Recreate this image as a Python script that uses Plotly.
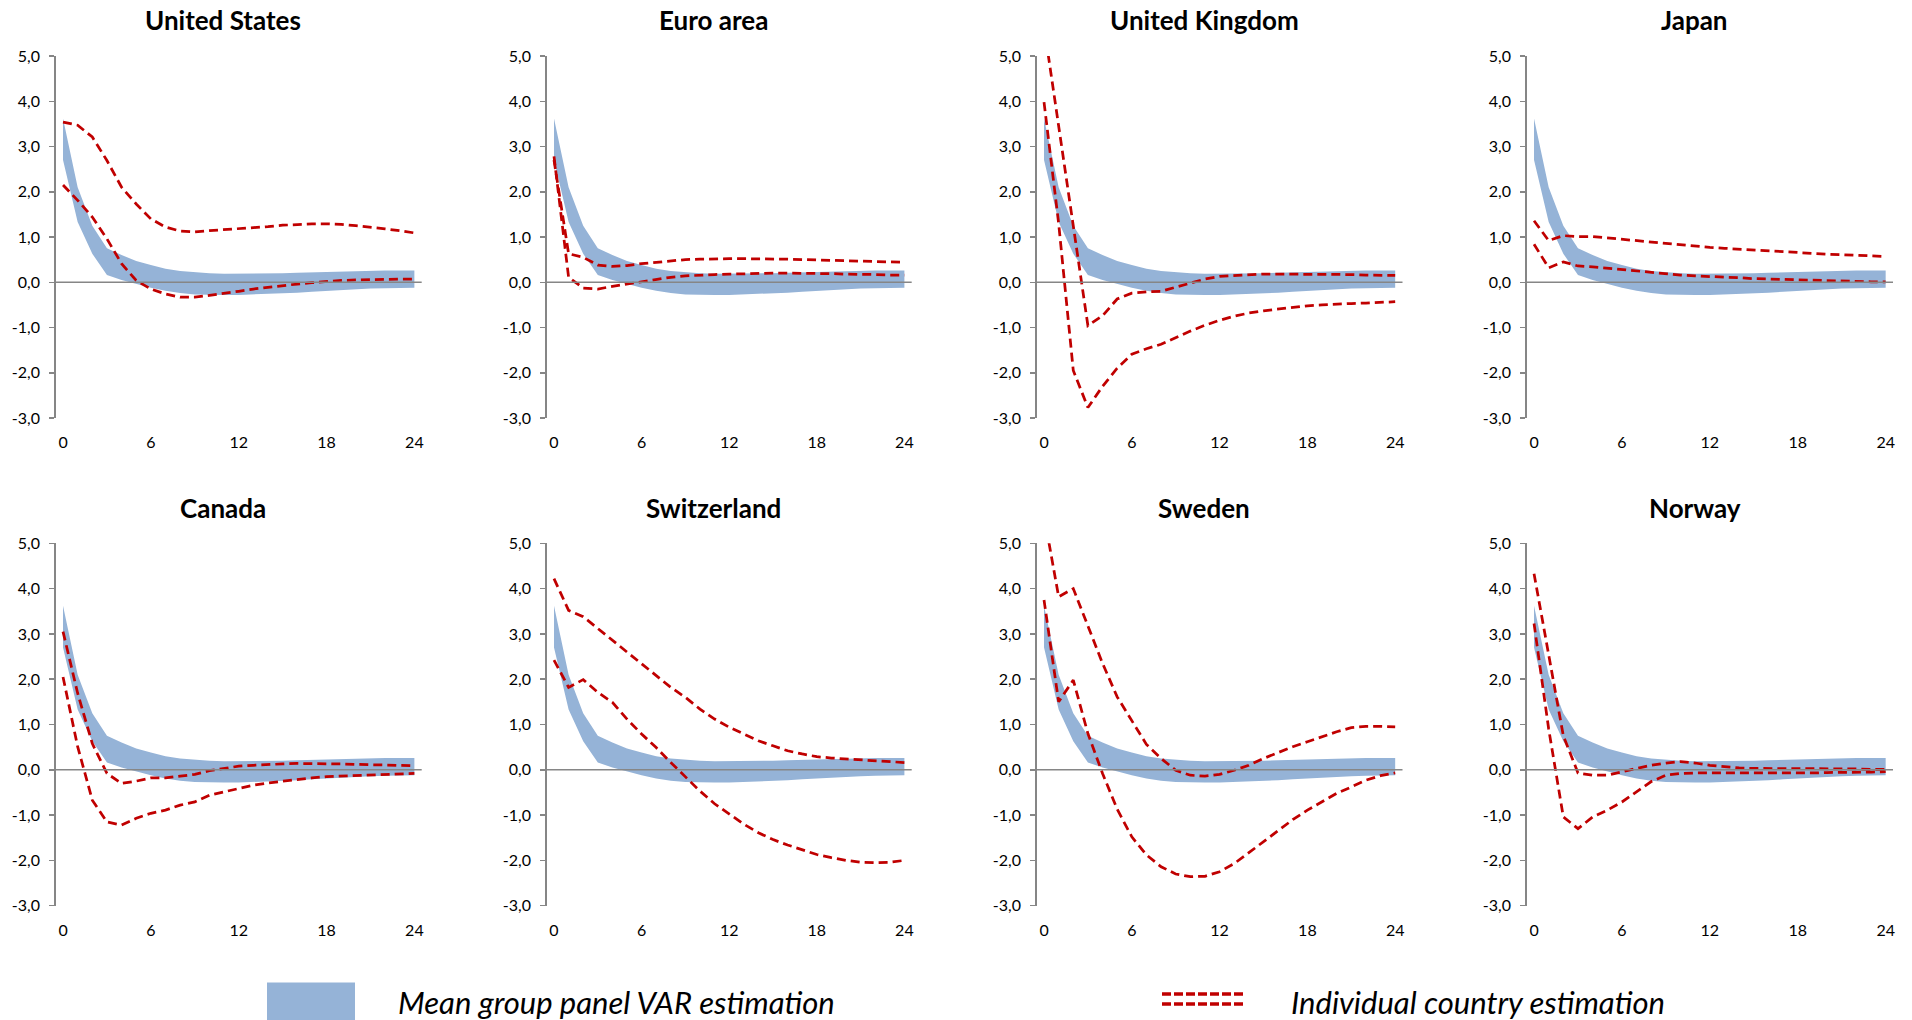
import plotly.graph_objects as go

months = list(range(25))
x_ticks = [0, 6, 12, 18, 24]
y_ticks = [-3, -2, -1, 0, 1, 2, 3, 4, 5]
y_ticktext = ["-3,0", "-2,0", "-1,0", "0,0", "1,0", "2,0", "3,0", "4,0", "5,0"]

countries = ["United States", "Euro area", "United Kingdom", "Japan",
             "Canada", "Switzerland", "Sweden", "Norway"]

band_upper = [3.62, 2.10, 1.25, 0.75, 0.60, 0.47, 0.38, 0.30, 0.25, 0.22, 0.20, 0.19, 0.19,
              0.19, 0.19, 0.20, 0.21, 0.22, 0.23, 0.24, 0.25, 0.26, 0.26, 0.26, 0.26]
band_lower = [2.70, 1.33, 0.63, 0.16, 0.05, -0.04, -0.12, -0.19, -0.24, -0.27, -0.28, -0.28, -0.28,
              -0.27, -0.26, -0.25, -0.23, -0.21, -0.19, -0.17, -0.15, -0.14, -0.13, -0.12, -0.12]

us_a = [3.54, 3.47, 3.21, 2.69, 2.10, 1.73, 1.40, 1.22, 1.13, 1.11, 1.14, 1.16, 1.18,
        1.21, 1.23, 1.26, 1.28, 1.29, 1.29, 1.28, 1.25, 1.22, 1.18, 1.14, 1.09]
us_b = [2.15, 1.81, 1.44, 0.96, 0.41, 0.04, -0.15, -0.26, -0.33, -0.33, -0.29, -0.25, -0.20,
        -0.15, -0.11, -0.07, -0.04, -0.01, 0.02, 0.04, 0.05, 0.06, 0.07, 0.07, 0.07]
ea_a = [2.78, 0.11, -0.13, -0.15, -0.09, -0.04, 0.01, 0.07, 0.11, 0.14, 0.16, 0.17, 0.18,
        0.19, 0.20, 0.20, 0.20, 0.20, 0.20, 0.19, 0.18, 0.18, 0.17, 0.16, 0.16]
ea_b = [2.70, 0.63, 0.55, 0.38, 0.35, 0.37, 0.41, 0.44, 0.48, 0.50, 0.51, 0.52, 0.52,
        0.52, 0.52, 0.52, 0.51, 0.50, 0.49, 0.49, 0.48, 0.47, 0.46, 0.45, 0.44]
uk_a = [5.66, 3.45, 1.25, -0.96, -0.74, -0.37, -0.24, -0.21, -0.20, -0.11, -0.02, 0.07, 0.13,
        0.15, 0.17, 0.18, 0.18, 0.18, 0.18, 0.18, 0.17, 0.17, 0.16, 0.16, 0.15]
uk_b = [3.98, 1.30, -1.95, -2.77, -2.30, -1.90, -1.59, -1.47, -1.37, -1.22, -1.08, -0.95, -0.84,
        -0.75, -0.68, -0.63, -0.59, -0.55, -0.52, -0.50, -0.48, -0.47, -0.46, -0.44, -0.43]
jp_a = [1.36, 0.92, 1.03, 1.01, 1.01, 0.98, 0.95, 0.92, 0.88, 0.85, 0.82, 0.80, 0.77,
        0.75, 0.73, 0.71, 0.69, 0.67, 0.66, 0.64, 0.62, 0.61, 0.60, 0.58, 0.57]
jp_b = [0.84, 0.32, 0.45, 0.36, 0.34, 0.31, 0.27, 0.24, 0.21, 0.18, 0.16, 0.14, 0.13,
        0.11, 0.10, 0.08, 0.07, 0.06, 0.05, 0.04, 0.04, 0.03, 0.02, 0.01, 0.01]
ca_a = [3.05, 1.69, 0.58, -0.08, -0.30, -0.25, -0.18, -0.18, -0.14, -0.10, -0.02, 0.03, 0.08,
        0.10, 0.12, 0.13, 0.14, 0.14, 0.14, 0.13, 0.12, 0.11, 0.10, 0.09, 0.09]
ca_b = [2.05, 0.51, -0.67, -1.15, -1.22, -1.07, -0.96, -0.89, -0.78, -0.71, -0.56, -0.49, -0.41,
        -0.34, -0.29, -0.25, -0.21, -0.18, -0.15, -0.14, -0.13, -0.11, -0.10, -0.09, -0.08]
ch_a = [4.22, 3.52, 3.38, 3.12, 2.86, 2.60, 2.34, 2.08, 1.82, 1.60, 1.34, 1.12, 0.94,
        0.79, 0.64, 0.53, 0.42, 0.35, 0.29, 0.26, 0.24, 0.21, 0.20, 0.18, 0.16]
ch_b = [2.42, 1.82, 1.99, 1.71, 1.49, 1.12, 0.79, 0.49, 0.16, -0.15, -0.47, -0.75, -0.98,
        -1.20, -1.39, -1.54, -1.66, -1.77, -1.87, -1.94, -2.00, -2.04, -2.05, -2.04, -2.00]
se_a = [5.62, 3.82, 4.00, 3.16, 2.35, 1.61, 1.08, 0.56, 0.25, -0.01, -0.12, -0.14, -0.10,
        -0.01, 0.10, 0.25, 0.38, 0.51, 0.62, 0.73, 0.84, 0.93, 0.96, 0.96, 0.95]
se_b = [3.75, 1.50, 1.98, 0.80, -0.08, -0.87, -1.48, -1.88, -2.14, -2.30, -2.36, -2.35, -2.25,
        -2.07, -1.83, -1.59, -1.33, -1.10, -0.89, -0.71, -0.52, -0.38, -0.23, -0.13, -0.07]
no_a = [4.33, 2.50, 0.75, -0.07, -0.12, -0.12, -0.04, 0.03, 0.10, 0.15, 0.18, 0.15, 0.10,
        0.07, 0.04, 0.03, 0.03, 0.03, 0.03, 0.03, 0.03, 0.02, 0.02, 0.01, 0.01]
no_b = [3.23, 0.90, -1.04, -1.30, -1.04, -0.89, -0.71, -0.49, -0.26, -0.12, -0.08, -0.07, -0.07,
        -0.08, -0.08, -0.08, -0.08, -0.07, -0.07, -0.07, -0.06, -0.06, -0.05, -0.05, -0.04]

country_lines = [(us_a, us_b), (ea_a, ea_b), (uk_a, uk_b), (jp_a, jp_b),
                 (ca_a, ca_b), (ch_a, ch_b), (se_a, se_b), (no_a, no_b)]

W, H = 1912, 1020
BLUE = "#95B3D7"
RED = "#C00000"
AXIS = "#868686"
FONT = "Lato"

col_px = [(55.7, 421.7), (546.7, 911.7), (1036.7, 1402.5), (1526.7, 1893.0)]
row_px = [(56.0, 418.0), (543.3, 905.7)]
title_y_px = [20, 508]

fig = go.Figure()
layout = dict(width=W, height=H, margin=dict(l=0, r=0, t=0, b=0, pad=0, autoexpand=False),
              paper_bgcolor="white", plot_bgcolor="white", showlegend=False,
              font=dict(family=FONT, size=16, color="#000000"))
shapes = []
annotations = []

for i, name in enumerate(countries):
    r, c = divmod(i, 4)
    n = i + 1
    xa = "x" if n == 1 else f"x{n}"
    ya = "y" if n == 1 else f"y{n}"
    xk = "xaxis" if n == 1 else f"xaxis{n}"
    yk = "yaxis" if n == 1 else f"yaxis{n}"
    x0, x1 = col_px[c]
    y0, y1 = row_px[r]
    layout[xk] = dict(domain=[x0 / W, x1 / W], anchor=ya, range=[-0.5, 24.5],
                      showline=False, showgrid=False, zeroline=False, ticks="",
                      tickvals=x_ticks, ticklabelstandoff=13, automargin=False,
                      tickfont=dict(family=FONT, size=16, color="#000"), fixedrange=True)
    layout[yk] = dict(domain=[1 - y1 / H, 1 - y0 / H], anchor=xa, range=[-3, 5],
                      showline=True, linecolor=AXIS, linewidth=1.5, showgrid=False,
                      zeroline=False, ticks="outside", ticklen=5, tickcolor=AXIS, tickwidth=1.5,
                      tickvals=y_ticks, ticktext=y_ticktext, ticklabelstandoff=6, automargin=False,
                      tickfont=dict(family=FONT, size=16, color="#000"), fixedrange=True)
    fig.add_trace(go.Scatter(x=months, y=band_lower, mode="lines", line=dict(width=0, color=BLUE),
                             xaxis=xa, yaxis=ya, hoverinfo="skip"))
    fig.add_trace(go.Scatter(x=months, y=band_upper, mode="lines", line=dict(width=0, color=BLUE),
                             fill="tonexty", fillcolor=BLUE, xaxis=xa, yaxis=ya, hoverinfo="skip"))
    for series in country_lines[i]:
        fig.add_trace(go.Scatter(x=months, y=series, mode="lines",
                                 line=dict(color=RED, width=2.75, dash="9px,5px"),
                                 xaxis=xa, yaxis=ya))
    shapes.append(dict(type="line", xref=f"{xa} domain", yref=ya, x0=0, x1=1, y0=0, y1=0,
                       line=dict(color=AXIS, width=1.5), layer="above"))
    cx = (x0 + x1) / 2 - 15.3
    annotations.append(dict(text=f"<b>{name}</b>", x=cx / W, y=1 - title_y_px[r] / H,
                            xref="paper", yref="paper", xanchor="center", yanchor="middle",
                            showarrow=False, font=dict(family=FONT, size=26, color="#000")))

# legend
shapes.append(dict(type="rect", xref="paper", yref="paper", x0=267 / W, x1=355 / W,
                   y0=1 - 1020 / H, y1=1 - 982.5 / H, fillcolor=BLUE, line=dict(width=0)))
for ly in (994, 1004):
    shapes.append(dict(type="line", xref="paper", yref="paper", x0=1162 / W, x1=1246 / W,
                       y0=1 - ly / H, y1=1 - ly / H,
                       line=dict(color=RED, width=3.5, dash="9px,3px")))
annotations.append(dict(text="<i>Mean group panel VAR estimation</i>", x=396 / W, y=1 - 1002 / H,
                        xref="paper", yref="paper", xanchor="left", yanchor="middle",
                        showarrow=False, font=dict(family=FONT, size=31, color="#000")))
annotations.append(dict(text="<i>Individual country estimation</i>", x=1289 / W, y=1 - 1002 / H,
                        xref="paper", yref="paper", xanchor="left", yanchor="middle",
                        showarrow=False, font=dict(family=FONT, size=31, color="#000")))

layout["shapes"] = shapes
layout["annotations"] = annotations
fig.update_layout(**layout)
fig.write_html("out.html", config={"displayModeBar": False, "staticPlot": True},
               post_script="document.body.style.margin='0';document.body.style.overflow='hidden';")
